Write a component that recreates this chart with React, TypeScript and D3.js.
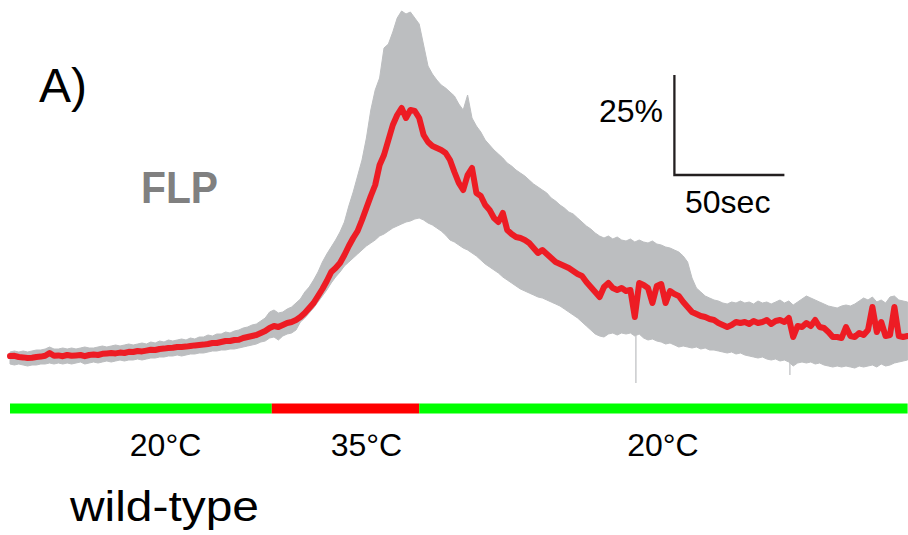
import React from "react";
import * as d3 from "d3";

// FLP calcium trace, ΔF/F (%), sampled every 2 s
const SAMPLE_STEP_S = 2;

const meanDff = [
  -0.25, -0.2, -0.5, -0.6, -0.75, -0.7, -0.5, -0.4, -0.2, 0.5,
  -0.2, -0.1, -0.3, 0, -0.2, -0.1, 0, -0.3, 0, 0.1,
  0, 0.3, 0.4, 0.5, 0.4, 0.6, 0.5, 0.8, 0.75, 1.0,
  0.9, 1.1, 1.3, 1.25, 1.5, 1.6, 1.75, 1.8, 2.0, 2.0,
  2.1, 2.25, 2.4, 2.5, 2.6, 2.75, 3.0, 3.0, 3.25, 3.5,
  3.5, 3.75, 3.8, 4.25, 4.5, 4.75, 5.0, 5.5, 6.0, 6.75,
  7.25, 7.0, 7.5, 8.0, 8.25, 8.75, 9.5, 10.5, 11.75, 13.0,
  14.75, 16.5, 18.5, 20.75, 21.75, 23.0, 25.0, 27.25, 29.25, 31.0,
  33.75, 36.75, 39.75, 42.5, 47.5, 50.0, 53.75, 57.5, 60.0, 61.75,
  59.25, 61.25, 61.0, 59.25, 55.0, 53.25, 52.25, 51.75, 51.25, 50.5,
  48.75, 45.75, 43.0, 41.25, 45.0, 46.75, 40.5, 39.75, 37.5, 36.25,
  34.25, 33.25, 35.5, 31.25, 30.25, 29.5, 29.25, 28.75, 28.0, 26.75,
  25.5, 26.25, 25.25, 24.25, 23.25, 22.75, 22.25, 21.75, 21.0, 20.25,
  19.75, 18.25, 17.0, 15.75, 14.5, 17.0, 18.0, 16.75, 16.25, 16.75,
  16.0, 16.25, 9.5, 18.0, 17.5, 16.75, 13.0, 17.25, 17.75, 13.0,
  16.0, 15.25, 14.75, 13.25, 12.0, 10.75, 10.25, 9.75, 9.5, 9.0,
  8.75, 8.0, 7.5, 7.0, 7.5, 8.25, 8.0, 8.25, 7.75, 8.5,
  8.0, 8.25, 8.75, 7.75, 8.5, 8.75, 8.25, 9.25, 4.5, 7.25,
  7.0, 8.0, 7.25, 8.75, 7.0, 6.75, 5.75, 4.5, 4.5, 4.25,
  7.0, 4.75, 4.5, 5.5, 5.0, 6.25, 12.0, 5.75, 8.25, 4.75,
  5.0, 12.0, 4.75, 4.5, 4.75,
];

const upperDff = [
  0.75, 1.0, 0.75, 1.0, 0.75, 1.0, 1.25, 1.25, 1.5, 2.0,
  1.5, 1.5, 1.75, 1.5, 1.75, 1.5, 1.75, 2.0, 1.75, 1.75,
  2.0, 2.25, 2.0, 2.25, 2.5, 2.25, 2.5, 2.75, 2.5, 2.75,
  3.0, 2.75, 3.25, 3.0, 3.5, 3.25, 3.75, 3.5, 3.75, 4.0,
  3.75, 4.25, 4.0, 4.5, 4.5, 5.0, 4.75, 5.25, 5.25, 5.75,
  5.5, 6.0, 6.25, 6.75, 7.0, 7.5, 7.75, 8.5, 9.25, 10.75,
  11.25, 10.5, 10.75, 11.5, 12.0, 13.0, 14.0, 15.75, 17.0, 18.75,
  20.75, 23.25, 25.25, 27.0, 28.75, 30.75, 33.25, 37.25, 40.75, 44.75,
  48.75, 54.25, 61.25, 66.25, 69.25, 76.75, 77.75, 80.75, 84.25, 86.0,
  85.25, 85.75, 84.25, 82.75, 77.5, 72.25, 70.25, 68.75, 67.5, 66.75,
  65.75, 64.75, 62.75, 61.25, 65.0, 59.25, 57.25, 55.75, 53.75, 52.5,
  51.25, 50.25, 49.25, 48.0, 47.25, 46.25, 45.5, 44.75, 43.75, 42.75,
  42.0, 41.25, 40.5, 39.25, 38.5, 37.5, 36.75, 35.75, 35.25, 34.25,
  33.25, 32.25, 31.5, 30.5, 29.75, 29.25, 29.75, 29.0, 29.5, 28.75,
  28.5, 29.0, 28.25, 28.75, 28.25, 28.0, 28.5, 27.75, 27.5, 27.0,
  26.75, 26.25, 25.75, 24.75, 23.25, 19.25, 16.75, 15.75, 14.75, 14.25,
  13.75, 13.5, 13.0, 12.75, 13.25, 13.0, 13.5, 13.0, 13.25, 12.75,
  13.5, 13.0, 13.25, 12.75, 13.25, 13.75, 13.0, 13.5, 12.5, 13.25,
  14.0, 14.75, 14.25, 13.75, 13.25, 12.75, 12.25, 12.0, 11.75, 12.25,
  12.5, 12.25, 12.75, 13.5, 14.25, 13.75, 14.5, 13.25, 13.75, 13.0,
  14.5, 14.75, 13.75, 13.5, 13.25,
];

const lowerDff = [
  -2.25, -2.5, -2.25, -2.5, -2.75, -2.5, -2.5, -2.25, -2.25, -2.0,
  -2.25, -2.0, -2.25, -2.0, -2.25, -2.0, -1.75, -2.25, -2.0, -1.75,
  -2.0, -1.75, -1.5, -1.75, -1.5, -1.25, -1.5, -1.25, -1.25, -1.0,
  -1.25, -1.0, -0.75, -0.75, -0.5, -0.5, -0.25, -0.25, 0, -0.25,
  0, 0.25, 0.25, 0.5, 0.5, 0.75, 1.0, 1.0, 1.25, 1.25,
  1.5, 1.5, 1.75, 2.0, 2.25, 2.5, 2.75, 3.25, 3.5, 4.25,
  4.5, 3.75, 4.75, 5.25, 5.5, 6.25, 8.25, 9.25, 10.5, 11.75,
  13.25, 14.75, 16.25, 18.0, 19.5, 20.75, 22.25, 23.25, 24.25, 25.25,
  26.25, 27.25, 28.0, 28.75, 29.75, 30.25, 31.0, 31.75, 32.25, 32.75,
  33.25, 33.5, 34.0, 34.25, 33.75, 33.0, 32.5, 31.75, 31.0, 30.0,
  28.75, 28.25, 27.5, 26.75, 26.25, 25.5, 24.75, 23.75, 22.75, 22.0,
  21.25, 20.5, 19.5, 18.75, 18.0, 17.25, 16.5, 16.0, 15.5, 15.0,
  14.5, 14.25, 13.75, 13.25, 12.75, 12.25, 11.5, 10.75, 10.0, 9.25,
  8.25, 7.25, 6.25, 5.25, 4.75, 4.5, 5.25, 5.5, 5.0, 5.5,
  5.25, 5.5, 4.75, 5.25, 4.25, 3.75, 4.0, 3.5, 3.25, 2.75,
  3.0, 2.5, 2.0, 2.25, 2.0, 1.75, 2.0, 1.5, 1.75, 1.25,
  1.25, 1.0, 0.75, 0.5, 0.75, 0.25, 0.5, 0, -0.25, -0.5,
  -0.75, -0.5, -1.0, -1.25, -1.0, -1.5, -1.25, -1.75, -2.75, -2.0,
  -1.75, -2.0, -1.75, -2.25, -2.0, -2.5, -2.75, -3.0, -2.75, -3.0,
  -2.75, -3.0, -3.25, -2.75, -3.0, -2.75, -2.5, -3.0, -2.25, -2.75,
  -2.5, -2.0, -1.75, -1.5, -1.25,
];

// isolated single-frame dips of the SEM envelope
const dropTimes = [284.5, 354.5];
const dropLows = [-7, -5];

// temperature protocol
const stimStarts = [0, 119, 186];
const stimEnds = [119, 186, 408];
const stimHot = [false, true, false];
const stimLabels = ["20°C", "35°C", "20°C"];
const stimLabelTimes = [70.7, 162, 296.8];

// scale bar
const scaleBarPct = 25;
const scaleBarSec = 50;
const scaleBarTime = 302;
const scaleBarValue = 45;

const SANS = "'Liberation Sans', Arial, sans-serif";

export default function App() {
  const width = 908;
  const height = 535;

  const x = d3.scaleLinear().domain([0, 408]).range([10, 907.6]);
  const y = d3.scaleLinear().domain([0, 25]).range([355, 255]);

  const times = meanDff.map((_, i) => i * SAMPLE_STEP_S);

  const band = d3
    .area<number>()
    .x((_, i) => x(times[i]))
    .y0((_, i) => y(lowerDff[i]))
    .y1((_, i) => y(upperDff[i]));

  const meanLine = d3
    .line<number>()
    .x((_, i) => x(times[i]))
    .y((d) => y(d));

  const sbX0 = x(scaleBarTime);
  const sbX1 = x(scaleBarTime + scaleBarSec);
  const sbY0 = y(scaleBarValue);
  const sbY1 = y(scaleBarValue + scaleBarPct);

  const barTop = 403.5;
  const barH = 10;

  return (
    <div style={{ position: "absolute", left: 0, top: 0 }}>
      <svg width={width} height={height} style={{ display: "block", background: "#fff" }}>
        <text x={39} y={102} fontFamily={SANS} fontSize={48} fill="#000">
          A)
        </text>
        <text
          x={141}
          y={203}
          fontFamily={SANS}
          fontWeight="bold"
          fontSize={45}
          fill="#808080"
          textLength={77}
          lengthAdjust="spacingAndGlyphs"
        >
          FLP
        </text>

        <path d={band(meanDff) ?? ""} fill="#bcbec0" stroke="#bcbec0" strokeWidth={1} />
        {dropTimes.map((t, i) => (
          <line
            key={i}
            x1={x(t)}
            x2={x(t)}
            y1={y(lowerDff[Math.round(t / SAMPLE_STEP_S)])}
            y2={y(dropLows[i])}
            stroke="#bcbec0"
            strokeWidth={1.2}
          />
        ))}
        <path
          d={meanLine(meanDff) ?? ""}
          fill="none"
          stroke="#ed1c24"
          strokeWidth={6}
          strokeLinejoin="round"
          strokeLinecap="round"
        />

        {/* scale bar */}
        <path
          d={`M${sbX0},${sbY1}V${sbY0}H${sbX1}`}
          fill="none"
          stroke="#231f20"
          strokeWidth={2.3}
        />
        <text x={663} y={122} textAnchor="end" fontFamily={SANS} fontSize={32} fill="#000">
          {scaleBarPct}%
        </text>
        <text x={685} y={213} fontFamily={SANS} fontSize={32} fill="#000">
          {scaleBarSec}sec
        </text>

        {/* temperature protocol */}
        {stimStarts.map((s, i) => (
          <rect
            key={i}
            x={x(s)}
            y={barTop}
            width={x(stimEnds[i]) - x(s)}
            height={barH}
            fill={stimHot[i] ? "#ff0000" : "#00ff00"}
          />
        ))}
        {stimLabels.map((label, i) => (
          <text
            key={i}
            x={x(stimLabelTimes[i])}
            y={456}
            textAnchor="middle"
            fontFamily={SANS}
            fontSize={32}
            fill="#000"
          >
            {label}
          </text>
        ))}

        <text
          x={70}
          y={521}
          fontFamily={SANS}
          fontSize={42}
          fill="#000"
          textLength={189}
          lengthAdjust="spacingAndGlyphs"
        >
          wild-type
        </text>
      </svg>
    </div>
  );
}
